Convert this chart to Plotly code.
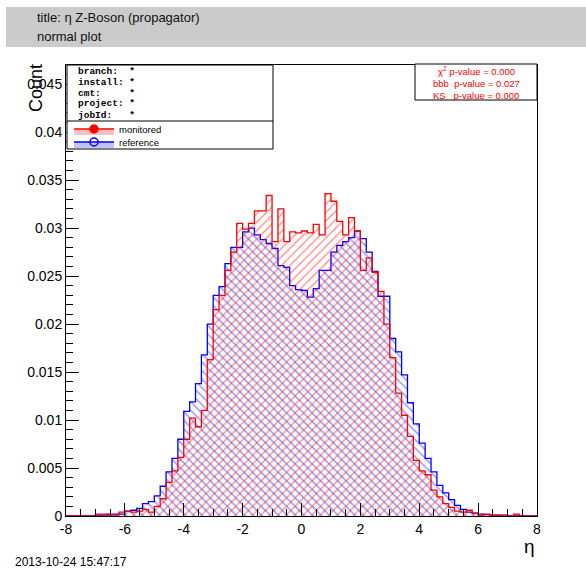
import numpy as np
import plotly.graph_objects as go

# ---------------- data ----------------
bin_lo, bin_hi, bin_w = -8.0, 8.0, 0.2

reference = [0, 0, 0, 0, 0,
             0.0001, 0.0001, 0.0002, 0.0002, 0.0002,
             0.0005, 0.0006, 0.0008, 0.0013, 0.0015,
             0.0021, 0.0031, 0.0046, 0.0060, 0.0080,
             0.0109, 0.0119, 0.0138, 0.0168, 0.0200,
             0.0230, 0.0239, 0.0263, 0.0280, 0.0280,
             0.0296, 0.0300, 0.0293, 0.0288, 0.0284,
             0.0279, 0.0261, 0.0259, 0.0240, 0.0236,
             0.0235, 0.0228, 0.0237, 0.0256, 0.0256,
             0.0275, 0.0282, 0.0286, 0.0290, 0.0297,
             0.0289, 0.0275, 0.0255, 0.0229, 0.0229,
             0.0185, 0.0171, 0.0147, 0.0118, 0.0096,
             0.0076, 0.0060, 0.0046, 0.0032, 0.0024,
             0.0017, 0.0011, 0.0007, 0.0004, 0.0003,
             0.0002, 0.00015, 0.0001, 0.0001, 0.0001,
             0, 0, 0, 0, 0]

monitored = [0, 0, 0, 0, 0,
             0.0002, 0.0002, 0.0001, 0.0001, 0.0004,
             0.0005, 0.0004, 0.0005, 0.0007, 0.0004,
             0.0010, 0.0018, 0.0035, 0.0047, 0.0061,
             0.0080, 0.0102, 0.0093, 0.0110, 0.0163,
             0.0215, 0.0230, 0.0256, 0.0275, 0.0305,
             0.0299, 0.0305, 0.0318, 0.0318, 0.0334,
             0.0286, 0.0320, 0.0286, 0.0296, 0.0295,
             0.0297, 0.0295, 0.0304, 0.0293, 0.0336,
             0.0328, 0.0307, 0.0293, 0.0311, 0.0297,
             0.0256, 0.0269, 0.0254, 0.0234, 0.0200,
             0.0165, 0.0128, 0.0105, 0.0083, 0.0058,
             0.0047, 0.0043, 0.0027, 0.0020, 0.0013,
             0.0009, 0.0005, 0.0004, 0.0006, 0.0003,
             0.0001, 0.0002, 0.0001, 0.0001, 0,
             0, 0.0002, 0, 0, 0]

x_tickvals = [-8, -6, -4, -2, 0, 2, 4, 6, 8]
x_ticktext = ["-8", "-6", "-4", "-2", "0", "2", "4", "6", "8"]

title_lines = ["title: \u03b7 Z-Boson (propagator)", "normal plot"]
info_lines = ["branch:\u00a0\u00a0*", "install:\u00a0*", "cmt:\u00a0\u00a0\u00a0\u00a0\u00a0*",
              "project:\u00a0*", "jobId:\u00a0\u00a0\u00a0*"]
pvalue_lines = ["\u03c7<sup>2</sup> p-value = 0.000",
                "bbb\u00a0\u00a0p-value = 0.027",
                "KS\u00a0\u00a0\u00a0p-value = 0.000"]
timestamp = "2013-10-24 15:47:17"

# ---------------- geometry ----------------
W_FIG, H_FIG = 586, 572
L, R, T, B = 66, 537, 65, 516
PW, PH = R - L, B - T


def px(xp):
    return (xp - L) / PW


def py(yp):
    return (B - yp) / PH


edges = np.round(np.arange(bin_lo, bin_hi + bin_w / 2, bin_w), 6)

RED = "#ff0000"
BLUE = "#0000ff"

fig = go.Figure()


def add_hist(vals, color, hatch, hatch_col, tint, name, legend, msym):
    y = list(vals) + [vals[-1]]
    fig.add_trace(go.Scatter(
        x=edges, y=y, mode="lines", line=dict(color=color, width=1.3, shape="hv"),
        fill="tozeroy", fillcolor="rgba(0,0,0,0)",
        fillpattern=dict(shape=hatch, fgcolor=hatch_col, bgcolor="rgba(0,0,0,0)",
                         size=6, solidity=0.25, fillmode="overlay"),
        showlegend=False, hoverinfo="skip"))
    fig.add_trace(go.Scatter(
        x=[None], y=[None], mode="lines+markers", name=name, legend=legend,
        line=dict(color=color, width=1.3),
        marker=dict(color=color, size=8, symbol=msym, line=dict(color=color, width=1.5)),
        fill="tozeroy", fillcolor=tint))


add_hist(reference, BLUE, "\\", "rgba(20,20,255,0.9)", "rgba(120,120,255,0.45)",
         "reference", "legend2", "circle-open")
add_hist(monitored, RED, "/", "rgba(255,20,20,0.9)", "rgba(255,120,120,0.45)",
         "monitored", "legend", "circle")

shapes = [
    dict(type="rect", xref="paper", yref="paper", x0=px(6), x1=px(586), y0=py(7), y1=py(47),
         fillcolor="#cbcbcb", line=dict(width=0), layer="above"),
    dict(type="rect", xref="paper", yref="paper", x0=px(67), x1=px(273), y0=py(65), y1=py(149),
         fillcolor="white", line=dict(color="black", width=1), layer="above"),
    dict(type="line", xref="paper", yref="paper", x0=px(67), x1=px(273), y0=py(121), y1=py(121),
         line=dict(color="black", width=1), layer="above"),
    dict(type="rect", xref="paper", yref="paper", x0=px(415), x1=px(537), y0=py(64), y1=py(100),
         fillcolor="white", line=dict(color="black", width=1), layer="above"),
]

ann = []
for i, t in enumerate(title_lines):
    ann.append(dict(text=t, xref="paper", yref="paper", x=px(35), y=py(18 + 18 * i),
                    xanchor="left", yanchor="middle", showarrow=False,
                    font=dict(size=13, color="#111111")))
for i, t in enumerate(info_lines):
    ann.append(dict(text="<b>" + t + "</b>", xref="paper", yref="paper", x=px(76), y=py(71 + 11 * i),
                    xanchor="left", yanchor="middle", showarrow=False,
                    font=dict(family="Liberation Mono, Courier New, monospace", size=9.5, color="black")))
for i, t in enumerate(pvalue_lines):
    ann.append(dict(text=t, xref="paper", yref="paper", x=px(476), y=py(71 + 12 * i),
                    xanchor="center", yanchor="middle", showarrow=False,
                    font=dict(size=9.5, color=RED)))
ann.append(dict(text="Count", xref="paper", yref="paper", x=px(36), y=py(88), textangle=-90,
                xanchor="center", yanchor="middle", showarrow=False, font=dict(size=18, color="black")))
ann.append(dict(text="\u03b7", xref="paper", yref="paper", x=px(529), y=py(546),
                xanchor="center", yanchor="middle", showarrow=False, font=dict(size=19, color="black")))
ann.append(dict(text=timestamp, xref="paper", yref="paper", x=px(13), y=py(562),
                xanchor="left", yanchor="middle", showarrow=False, font=dict(size=12, color="black")))

fig.update_layout(
    width=W_FIG, height=H_FIG,
    margin=dict(l=L, r=W_FIG - R, t=T, b=H_FIG - B, pad=0),
    paper_bgcolor="white", plot_bgcolor="white",
    font=dict(family="Liberation Sans, Arial, Helvetica, sans-serif", size=14, color="black"),
    shapes=shapes, annotations=ann,
    legend=dict(x=px(69), y=py(129), xanchor="left", yanchor="middle", bgcolor="rgba(0,0,0,0)",
                borderwidth=0, font=dict(size=9.5), tracegroupgap=0, itemwidth=40),
    legend2=dict(x=px(69), y=py(142), xanchor="left", yanchor="middle", bgcolor="rgba(0,0,0,0)",
                 borderwidth=0, font=dict(size=9.5), tracegroupgap=0, itemwidth=40),
    xaxis=dict(range=[bin_lo, bin_hi], tickvals=x_tickvals, ticktext=x_ticktext,
               ticks="inside", ticklen=13, tickcolor="black", showgrid=False, zeroline=False,
               showline=True, linecolor="black", linewidth=1, mirror=True,
               minor=dict(ticks="inside", ticklen=7, dtick=0.5, tickcolor="black", showgrid=False),
               tickfont=dict(size=14)),
    yaxis=dict(range=[0, 0.047], dtick=0.005, tick0=0,
               ticks="inside", ticklen=13, tickcolor="black", showgrid=False, zeroline=False,
               showline=True, linecolor="black", linewidth=1, mirror=True,
               minor=dict(ticks="inside", ticklen=7, dtick=0.001, tickcolor="black", showgrid=False),
               tickfont=dict(size=14)),
)

fig.write_html("out.html")
